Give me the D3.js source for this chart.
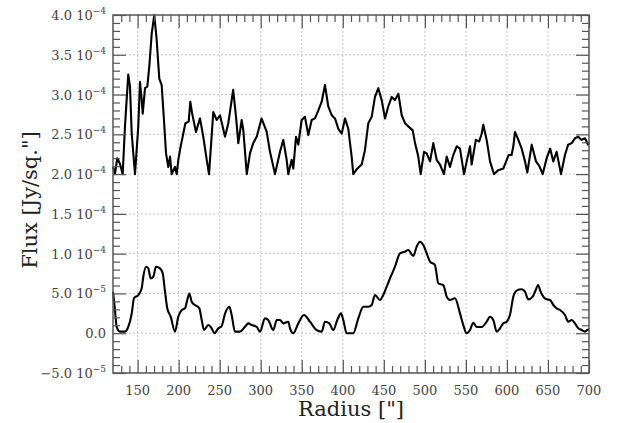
<!DOCTYPE html>
<html>
<head>
<meta charset="utf-8">
<script src="https://cdn.jsdelivr.net/npm/d3@7"></script>
<style>
body { margin: 0; background: #fff; }
svg text { font-family: "DejaVu Serif", serif; }
</style>
</head>
<body>
<div class="graphic"></div>
<script>
// upper profile, flux in units of 1e-4 Jy/sq."
var radiusTop = [120, 122.4, 125.2, 128.5, 131.8, 134.6, 138.6, 140.7, 142.8, 146.8, 150.8, 152.9, 155, 156.2, 159, 161.8,
    164.2, 167.2, 170.3, 173.2, 176.4, 179.3, 182.1, 184.6, 187.4, 189.5, 191.5, 195.5, 197.6, 199.6, 202.1, 208.2,
    212.2, 214.2, 216.3, 221.1, 226, 230, 234.2, 237, 242.2, 246.4, 250.4, 256.5, 260.5, 266.4, 269.9, 272.7, 276.8,
    278.8, 283, 286.9, 290.9, 295.1, 301, 307.3, 311.3, 317.4, 323.5, 327.5, 331.6, 333.6, 337.7, 339.7, 343, 345.8,
    349.9, 353.9, 358, 362.1, 366.1, 370.2, 374.3, 378.3, 382.3, 386.5, 390.5, 394.5, 398.7, 402.7, 406.7, 410.8,
    412.8, 416.9, 423, 427, 431.1, 435.2, 439.2, 443.3, 447.4, 451.4, 455.4, 459.6, 463.6, 467.7, 471.8, 475.8, 479.8,
    485.2, 488, 492, 494.9, 499, 502.2, 506.3, 510.3, 514.4, 518.4, 523.3, 526.6, 530.6, 534.6, 538.8, 542.8, 547.7,
    551, 555, 557, 562.1, 566.2, 569.3, 571.2, 575.3, 579.4, 584.2, 589.5, 595.6, 602, 605.7, 607.8, 609.8, 613.9,
    618, 622, 624.8, 630.2, 635.4, 639.5, 643.6, 648.4, 652.7, 656.5, 660.6, 665.9, 670.7, 674.6, 678.9, 682.9,
    686.9, 691, 695.1, 699, 700];
var fluxTop = [2.09, 2.0, 2.2, 2.13, 2.0, 2.6, 3.25, 3.1, 2.51, 2.0, 2.6, 3.16, 2.93, 2.76, 3.08, 3.1,
    3.35, 3.77, 4.0, 3.69, 3.2, 3.12, 2.68, 2.26, 2.09, 2.22, 2.0, 2.09, 2.0, 2.18, 2.33, 2.64,
    2.66, 2.91, 2.77, 2.53, 2.7, 2.47, 2.18, 2.0, 2.78, 2.68, 2.74, 2.47, 2.64, 3.06, 2.72, 2.39, 2.68,
    2.55, 2.0, 2.26, 2.39, 2.47, 2.7, 2.53, 2.28, 2.0, 2.28, 2.43, 2.18, 2.0, 2.18, 2.07, 2.47, 2.37,
    2.68, 2.72, 2.49, 2.68, 2.7, 2.8, 2.91, 3.12, 2.85, 2.74, 2.7, 2.57, 2.51, 2.7, 2.57, 2.22,
    2.0, 2.06, 2.12, 2.3, 2.64, 2.72, 2.97, 3.08, 2.93, 2.7, 2.85, 2.97, 2.93, 3.01, 2.74, 2.64, 2.6,
    2.55, 2.39, 2.22, 2.0, 2.28, 2.26, 2.16, 2.39, 2.18, 2.12, 2.0, 2.22, 2.09, 2.24, 2.35, 2.32, 2.0,
    2.16, 2.35, 2.12, 2.43, 2.41, 2.51, 2.62, 2.43, 2.16, 2.0, 2.05, 2.07, 2.24, 2.24, 2.35, 2.53, 2.43,
    2.32, 2.16, 2.02, 2.37, 2.16, 2.1, 2.0, 2.2, 2.32, 2.16, 2.28, 2.0, 2.24, 2.37, 2.39, 2.45,
    2.47, 2.43, 2.45, 2.37, 2.4];

// lower profile, flux in units of 1e-5 Jy/sq."
var radiusBottom = [120, 122.4, 124.5, 128.5, 134.6, 138.6, 142.8, 145.6, 150.8, 155, 156.9, 160.2, 163, 165.9, 169.1,
    172.4, 177.3, 180.6, 183.4, 186.2, 190.3, 195.5, 199.6, 203.7, 207.7, 210.5, 213, 215.9, 219.9, 225.2, 228.1,
    230.9, 236.1, 240.3, 243.4, 248.3, 252.4, 256.5, 261.8, 264.6, 268.6, 274.7, 280.8, 284.9, 289, 295.1, 299.1,
    305.2, 309.2, 315.3, 319.5, 323.5, 327.5, 333.6, 335.7, 339.7, 345.8, 352.7, 360, 368.2, 374.3, 378.3, 383.6,
    388.4, 393.3, 397.8, 400.6, 404.7, 412.8, 418.9, 425, 431.1, 435.2, 439.2, 445.3, 449.3, 453.5, 457.5, 463.6,
    469.7, 475.8, 479.8, 485.9, 490, 494, 498.1, 502.2, 506.3, 512.3, 516.4, 522.5, 526.6, 530.6, 536.7, 542.8,
    546.8, 550.8, 555, 559, 563.1, 569.2, 575.3, 579.4, 583.4, 587.5, 591.5, 595.6, 599.7, 603.7, 607.8, 611.9,
    618, 622, 626, 631.4, 634.2, 638.2, 640.3, 644.3, 648.4, 652.5, 656.5, 660.6, 664.7, 670.7, 674.8, 678.9,
    682.9, 686.9, 691, 695.1, 697.9, 700];
var fluxBottom = [5.22, 2.9, 0.79, 0.2, 0.2, 0.8, 2.47, 4.4, 4.8, 5.65, 7.1, 8.36, 8.16, 6.9, 7.1,
    8.36, 8.16, 7.5, 5.22, 3.1, 2.08, 0.2, 2.1, 2.9, 3.13, 4.18, 5.0, 3.96, 3.55, 3.13, 1.66,
    0.4, 1.03, 0.61, 0, 0.61, 0.9, 2.47, 3.33, 2.29, 0.2, 0.2, 0.8, 1.24, 1.03, 0.8, 0.2,
    1.87, 1.66, 0.4, 1.66, 1.66, 1.24, 1.45, 0.61, 0, 1.24, 2.29, 1.45, 0.4, 0.2, 1.45, 1.24,
    0.4, 1.66, 2.5, 1.66, 0, 0, 1.87, 3.33, 3.33, 3.55, 4.8, 4.18, 4.8, 5.85, 6.9, 8.36,
    10.05, 10.25, 10.46, 9.7, 10.88, 11.5, 11.09, 10.05, 9.0, 8.57, 6.27, 6.06, 4.6, 4.18, 4.39, 2.5,
    1.03, 0, 0.4, 1.32, 0.79, 0.79, 1.45, 2.08, 1.66, 0.2, 0.61, 1.24, 1.45, 2.29, 4.6, 5.35,
    5.52, 5.22, 4.26, 4.6, 5.22, 6.06, 5.43, 4.6, 4.26, 4.18, 3.55, 3.13, 2.92, 2.29, 1.45, 1.66,
    1.24, 0.61, 0.4, 0.2, 0.4, 0.5];

var xTicks = [150, 200, 250, 300, 350, 400, 450, 500, 550, 600, 650, 700];
var yTicks = [-5e-5, 0, 5e-5, 1e-4, 1.5e-4, 2e-4, 2.5e-4, 3e-4, 3.5e-4, 4e-4];
var yTickMantissa = ["\u22125.0", "0.0", "5.0", "1.0", "1.5", "2.0", "2.5", "3.0", "3.5", "4.0"];
var yTickExponent = ["\u22125", "", "\u22125", "\u22124", "\u22124", "\u22124", "\u22124", "\u22124", "\u22124", "\u22124"];

var width = 627, height = 423;
var box = { left: 113, right: 589, top: 15, bottom: 373 };

var svg = d3.select(".graphic")
    .append("svg")
    .attr("width", width)
    .attr("height", height);

var x = d3.scaleLinear().domain([120, 700]).range([box.left, box.right]);
var y = d3.scaleLinear().domain([-5e-5, 4e-4]).range([box.bottom, box.top]);

// minor tick positions
var xMinor = d3.range(130, 700, 10).filter(d => d % 50 != 0);
var yMinor = d3.range(-4, 40, 1).filter(d => d % 5 != 0).map(d => d * 1e-5);

// grid
svg.append("g")
    .selectAll("line")
    .data(xTicks.filter(d => d < 700))
    .join("line")
    .attr("x1", d => x(d)).attr("x2", d => x(d))
    .attr("y1", box.top).attr("y2", box.bottom)
    .attr("stroke", "#c4c4c4")
    .attr("stroke-dasharray", "2,2");

svg.append("g")
    .selectAll("line")
    .data(yTicks.slice(1, -1))
    .join("line")
    .attr("x1", box.left).attr("x2", box.right)
    .attr("y1", d => y(d)).attr("y2", d => y(d))
    .attr("stroke", "#c4c4c4")
    .attr("stroke-dasharray", "2,2");

// curves
var lineTop = d3.line()
    .x(d => x(d[0]))
    .y(d => y(d[1]));

var lineBottom = d3.line()
    .x(d => x(d[0]))
    .y(d => y(d[1]))
    .curve(d3.curveMonotoneX);

svg.append("path")
    .datum(radiusTop.map((r, i) => [r, fluxTop[i] * 1e-4]))
    .attr("d", lineTop)
    .attr("fill", "none")
    .attr("stroke", "#000")
    .attr("stroke-width", 2.1)
    .attr("stroke-linejoin", "round");

svg.append("path")
    .datum(radiusBottom.map((r, i) => [r, fluxBottom[i] * 1e-5]))
    .attr("d", lineBottom)
    .attr("fill", "none")
    .attr("stroke", "#000")
    .attr("stroke-width", 2.1)
    .attr("stroke-linejoin", "round");

// ticks on all four sides, pointing inward
var tickSides = [
    [d3.axisBottom, x, `translate(0,${box.bottom})`, xTicks, xMinor],
    [d3.axisTop, x, `translate(0,${box.top})`, xTicks, xMinor],
    [d3.axisLeft, y, `translate(${box.left},0)`, yTicks, yMinor],
    [d3.axisRight, y, `translate(${box.right},0)`, yTicks, yMinor],
];
tickSides.forEach(function (s) {
    [[s[3], -13], [s[4], -7]].forEach(function (t) {
        svg.append("g")
            .attr("transform", s[2])
            .call(s[0](s[1]).tickValues(t[0]).tickSize(t[1]).tickFormat(""))
            .call(g => g.select(".domain").remove())
            .selectAll("line")
            .attr("stroke", "#555")
            .attr("stroke-width", 1.2);
    });
});

svg.append("rect")
    .attr("x", box.left).attr("y", box.top)
    .attr("width", box.right - box.left)
    .attr("height", box.bottom - box.top)
    .attr("fill", "none")
    .attr("stroke", "#555")
    .attr("stroke-width", 1.5);

// tick labels
svg.append("g")
    .selectAll("text")
    .data(xTicks)
    .join("text")
    .attr("x", d => x(d))
    .attr("y", 395)
    .attr("text-anchor", "middle")
    .attr("font-size", 13)
    .attr("fill", "#444")
    .text(d => d);

var yLabels = svg.append("g")
    .selectAll("text")
    .data(yTicks)
    .join("text")
    .attr("x", 106)
    .attr("y", d => y(d) + 5)
    .attr("text-anchor", "end")
    .attr("font-size", 13)
    .attr("fill", "#444");

yLabels.append("tspan")
    .text((d, i) => yTickMantissa[i] + (yTickExponent[i] ? " 10" : ""));
yLabels.append("tspan")
    .attr("font-size", 9)
    .attr("dy", -6)
    .text((d, i) => yTickExponent[i]);

// axis titles
svg.append("text")
    .attr("x", (box.left + box.right) / 2)
    .attr("y", 416)
    .attr("text-anchor", "middle")
    .attr("font-size", 21)
    .attr("fill", "#222")
    .text("Radius [\"]");

svg.append("text")
    .attr("transform", "translate(37,200) rotate(-90)")
    .attr("text-anchor", "middle")
    .attr("font-size", 21)
    .attr("fill", "#222")
    .text("Flux [Jy/sq.\"]");
</script>
</body>
</html>
